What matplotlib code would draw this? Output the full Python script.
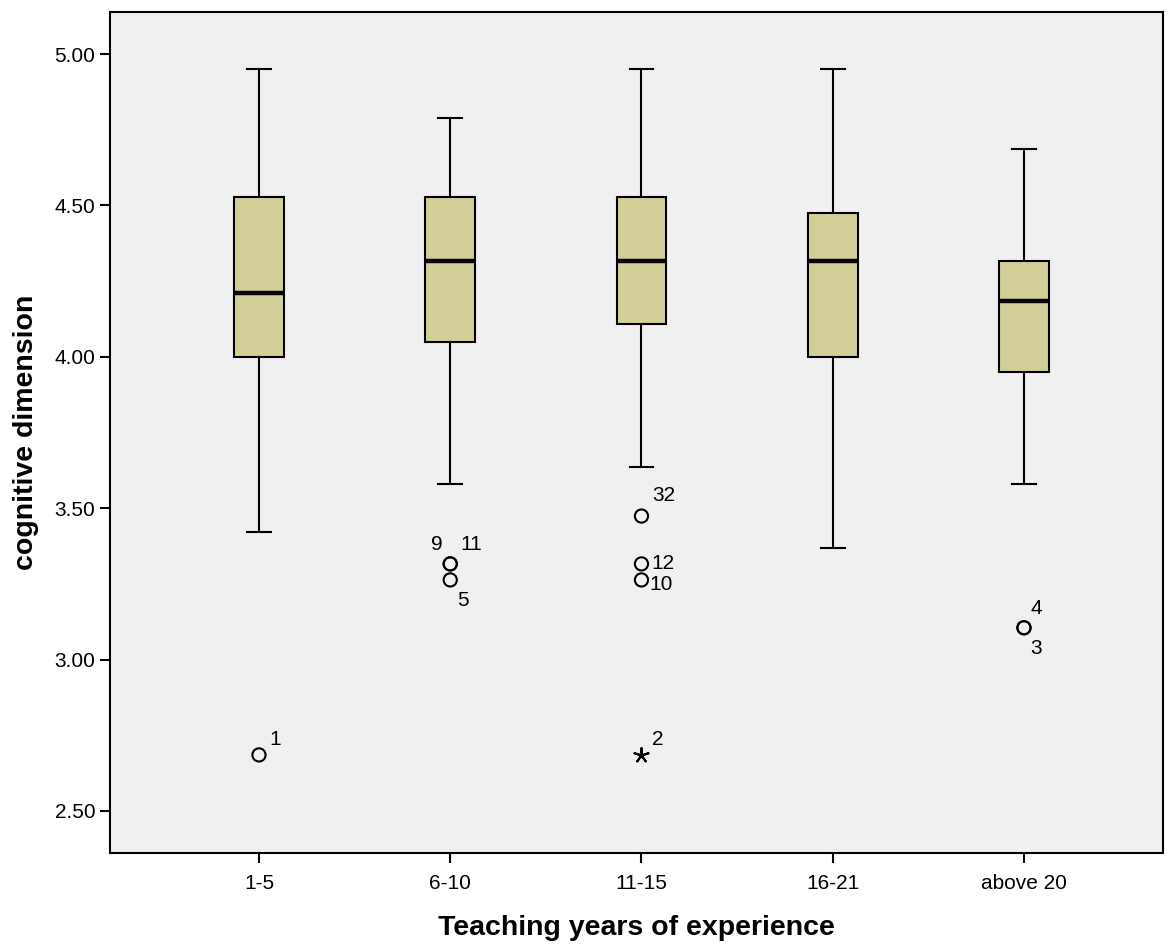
import matplotlib
matplotlib.use("Agg")
import matplotlib.pyplot as plt

plt.rcParams['font.family'] = ['Liberation Sans', 'DejaVu Sans']

# data
groups = ['1-5', '6-10', '11-15', '16-21', 'above 20']
whisker_low = [3.42, 3.58, 3.636, 3.37, 3.58]
q1 = [4.00, 4.05, 4.108, 4.00, 3.95]
medians = [4.212, 4.316, 4.316, 4.316, 4.185]
q3 = [4.528, 4.528, 4.528, 4.474, 4.316]
whisker_high = [4.95, 4.79, 4.95, 4.95, 4.686]

# outliers: group index, value, case label, label offset in px
outlier_group = [0, 1, 1, 1, 2, 2, 2, 4, 4]
outlier_value = [2.685, 3.316, 3.316, 3.263, 3.474, 3.316, 3.263, 3.105, 3.105]
outlier_label = ['1', '9', '11', '5', '32', '12', '10', '4', '3']
label_offset = [(16, 15), (-13, 19), (21, 19), (13, -21), (22, 21), (21, 0), (20, -5), (12, 19), (12, -21)]

extreme_group = [2]
extreme_value = [2.685]
extreme_label = ['2']

fig = plt.figure(figsize=(11.75, 9.47), dpi=100)
ax = fig.add_axes([110 / 1175, 1 - 853 / 947, 1053 / 1175, 841 / 947])
ax.set_facecolor('#f0f0f0')

positions = list(range(1, len(groups) + 1))
stats = []
for i, name in enumerate(groups):
    stats.append(dict(label=name, whislo=whisker_low[i], q1=q1[i], med=medians[i],
                      q3=q3[i], whishi=whisker_high[i], fliers=[]))

ax.bxp(stats, positions=positions, widths=0.26, patch_artist=True, showfliers=False,
       boxprops=dict(facecolor='#d3cf99', edgecolor='black', linewidth=1.5),
       medianprops=dict(color='black', linewidth=3.2, solid_capstyle='butt'),
       whiskerprops=dict(color='black', linewidth=1.5),
       capprops=dict(color='black', linewidth=1.5), capwidths=0.125)

xs = [positions[g] for g in outlier_group]
ax.scatter(xs, outlier_value, s=90, facecolors='none', edgecolors='black', linewidths=1.5, zorder=3)
for x, v, lab, off in zip(xs, outlier_value, outlier_label, label_offset):
    ax.annotate(lab, (x, v), xytext=off, textcoords='offset pixels',
                ha='center', va='center', fontsize=15)

ex = [positions[g] for g in extreme_group]
ax.scatter(ex, extreme_value, s=110, marker=(5, 2, 0), color='black', linewidths=1.5, zorder=3)
for x, v, lab in zip(ex, extreme_value, extreme_label):
    ax.annotate(lab, (x, v), xytext=(16, 15), textcoords='offset pixels',
                ha='center', va='center', fontsize=15)

ax.set_xlim(0.221, 5.727)
ax.set_ylim(2.361, 5.139)
ax.set_yticks([2.5, 3.0, 3.5, 4.0, 4.5, 5.0])
ax.set_yticklabels(['2.50', '3.00', '3.50', '4.00', '4.50', '5.00'])
ax.set_xticks(positions)
ax.set_xticklabels(groups)
ax.tick_params(axis='both', direction='out', length=7, width=1.5, labelsize=15)
ax.tick_params(axis='x', pad=8)

for spine in ax.spines.values():
    spine.set_linewidth(1.5)

ax.set_xlabel('Teaching years of experience', fontsize=20.5, fontweight='bold', labelpad=16)
ax.set_ylabel('cognitive dimension', fontsize=20.5, fontweight='bold', labelpad=11)

fig.savefig('out.png', dpi=100, facecolor='white')
